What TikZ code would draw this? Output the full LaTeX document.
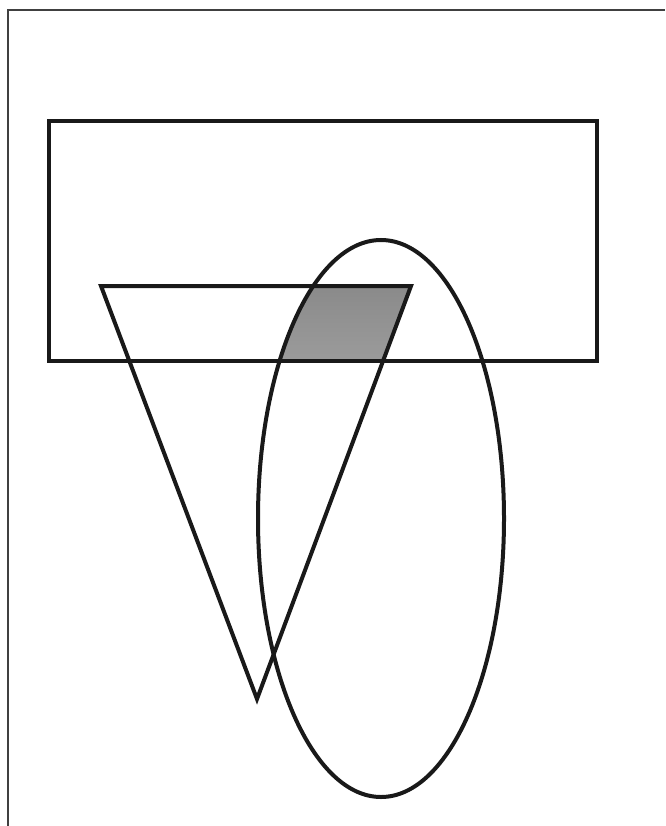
\documentclass[tikz,border=0pt]{standalone}
\usepackage{xcolor}
\usepackage{tikz}
\definecolor{shade}{HTML}{999999}

\begin{document}
\begin{tikzpicture}[x=1pt, y=-1pt,
      outline/.style={draw=black!90, line width=4pt, line join=miter},
      frame/.style={draw=black!75, line width=1.5pt}
    ]
      \useasboundingbox (0,0) rectangle (665,826);
      % corners of the shapes
      \coordinate (tl) at (101,286);
      \coordinate (tr) at (411,286);
      \coordinate (tb) at (257,699);
      \coordinate (ec) at (381,518.5);
      % shaded part: inside all three
      \begin{scope}
        \clip (49,121) rectangle (597,361);
        \clip (tl) -- (tr) -- (tb) -- cycle;
        \fill[shade] (ec) ellipse [x radius=123, y radius=278.5];
      \end{scope}
      \draw[frame] (8,826) -- (8,10) -- (665,10);
      \draw[outline] (49,121) rectangle (597,361);
      \draw[outline] (tl) -- (tr) -- (tb) -- cycle;
      \draw[outline] (ec) ellipse [x radius=123, y radius=278.5];
    \end{tikzpicture}
\end{document}
